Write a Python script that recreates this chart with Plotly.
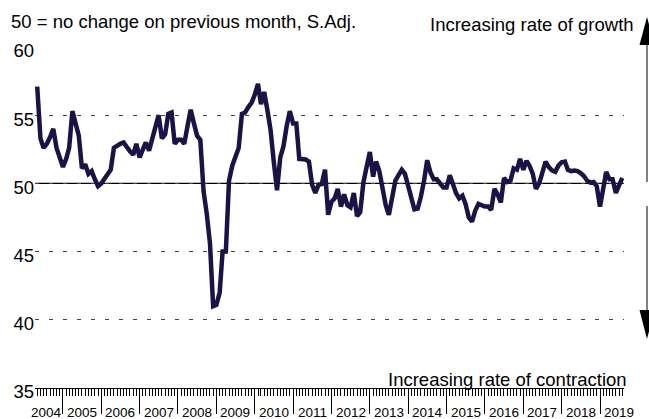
import pandas as pd
import plotly.graph_objects as go

# ---- data (monthly index, 50 = no change) May 2004 .. Aug 2019 ----
start_month = "2004-05-01"
pmi = [
    # 2004 (May-Dec)
    57.1, 53.3, 52.6, 52.9, 53.4, 54.0, 52.6, 51.9,
    # 2005
    51.2, 51.8, 52.6, 55.3, 54.4, 53.5, 51.1, 51.4, 50.7, 50.9, 50.3, 49.8,
    # 2006
    50.0, 50.3, 50.6, 51.0, 52.6, 52.8, 52.9, 53.0, 52.6, 52.35, 52.1, 52.9,
    # 2007
    51.9, 52.5, 53.0, 52.4, 53.3, 54.3, 55.0, 53.3, 53.6, 55.1, 55.2, 52.9,
    # 2008
    53.2, 53.2, 52.9, 54.2, 55.4, 54.4, 53.5, 53.2, 49.4, 47.8, 45.6, 41.0,
    # 2009
    41.1, 42.0, 45.0, 45.0, 50.2, 51.3, 52.0, 52.6, 55.1, 55.2, 55.6, 55.9,
    # 2010
    56.5, 57.3, 55.8, 56.7, 55.4, 53.9, 51.6, 49.5, 51.9, 52.7, 54.2, 55.3,
    # 2011
    54.4, 54.4, 51.8, 51.8, 51.75, 51.6, 49.9, 49.3, 49.9, 49.95, 51.0, 47.7,
    # 2012
    48.65, 48.9, 49.6, 48.3, 49.2, 48.4, 48.25, 49.3, 47.6, 47.9, 50.1, 51.2,
    # 2013
    52.3, 50.5, 51.6, 50.9, 49.7, 48.4, 47.7, 49.2, 50.2, 50.6, 51.0, 50.7,
    # 2014
    49.9, 49.0, 48.1, 48.15, 49.0, 50.2, 51.7, 50.8, 50.3, 50.3, 50.0, 49.7,
    # 2015
    49.7, 50.6, 50.0, 49.3, 48.9, 49.1, 48.5, 47.5, 47.2, 48.0, 48.5, 48.4,
    # 2016
    48.3, 48.3, 48.05, 49.6, 49.2, 48.6, 50.4, 50.1, 50.2, 51.1, 51.0, 51.8,
    # 2017
    51.0, 51.65, 51.3, 50.7, 49.6, 50.0, 50.9, 51.6, 51.2, 50.95, 50.85, 51.3,
    # 2018
    51.55, 51.6, 51.0, 50.9, 50.95, 50.9, 50.75, 50.55, 50.2, 50.05, 50.1, 49.8,
    # 2019 (Jan-Aug)
    48.3, 49.6, 50.85, 50.3, 50.3, 49.3, 49.9, 50.4,
]
months = pd.date_range(start_month, periods=len(pmi), freq="MS")

year_labels = [str(y) for y in range(2004, 2020)]
year_label_pos = ["2004-07-28"] + [f"{y}-07-01" for y in range(2005, 2020)]
y_ticks = [35, 40, 45, 50, 55, 60]
note_text = "50 = no change on previous month, S.Adj."
top_text = "Increasing rate of growth"
bottom_text = "Increasing rate of contraction"

# ---- layout geometry (page pixels) ----
W, H = 649, 419
# plot area in page pixels: x 35..624, y 47..388
PL, PR, PT, PB = 35, 624, 47, 388
L, T = PL, PT
R, B = W - PR, H - PB
PW, PH = PR - PL, PB - PT
FONT = "Liberation Sans, Arial, sans-serif"
LINE_COLOR = "#1b1347"


def px(xpage):
    return (xpage - PL) / PW


def py(ypage):
    return (PB - ypage) / PH


fig = go.Figure()
fig.add_trace(go.Scatter(
    x=months, y=pmi, mode="lines",
    line=dict(color=LINE_COLOR, width=4.5),
    hoverinfo="skip", showlegend=False,
))

# solid reference line at 50
fig.add_shape(type="line", xref="paper", x0=0, x1=1, yref="y", y0=50, y1=50,
              line=dict(color="black", width=1.2), layer="between")

# arrows on the right
AX = px(647)
fig.add_shape(type="line", xref="paper", yref="paper", x0=AX, x1=AX,
              y0=py(44), y1=py(182), line=dict(color="black", width=1))
fig.add_shape(type="path", xref="paper", yref="paper",
              path=f"M {px(639.5)},{py(45)} L {px(654.5)},{py(45)} L {AX},{py(17)} Z",
              fillcolor="black", line=dict(color="black", width=0))
fig.add_shape(type="line", xref="paper", yref="paper", x0=AX, x1=AX,
              y0=py(206), y1=py(311), line=dict(color="black", width=1))
fig.add_shape(type="path", xref="paper", yref="paper",
              path=f"M {px(639.5)},{py(310)} L {px(654.5)},{py(310)} L {AX},{py(339)} Z",
              fillcolor="black", line=dict(color="black", width=0))

ann = []
ann.append(dict(text=note_text, xref="paper", yref="paper", x=px(8.5), y=py(21.5),
                xanchor="left", yanchor="middle", showarrow=False,
                font=dict(size=18.5, color="black", family=FONT)))
ann.append(dict(text=top_text, xref="paper", yref="paper", x=px(636), y=py(24),
                xanchor="right", yanchor="middle", showarrow=False,
                font=dict(size=18.5, color="black", family=FONT)))
ann.append(dict(text=bottom_text, xref="paper", yref="paper", x=px(629), y=py(379.5),
                xanchor="right", yanchor="middle", showarrow=False,
                font=dict(size=18.5, color="black", family=FONT)))
for lab, pos in zip(year_labels, year_label_pos):
    ann.append(dict(text=lab, xref="x", yref="paper", x=pos, y=py(412),
                    xanchor="center", yanchor="middle", showarrow=False,
                    font=dict(size=13.5, color="black", family=FONT)))

fig.update_layout(
    width=W, height=H,
    margin=dict(l=L, r=R, t=T, b=B, autoexpand=False),
    paper_bgcolor="white", plot_bgcolor="white",
    font=dict(family=FONT, color="black"),
    annotations=ann,
    showlegend=False,
)
fig.update_xaxes(
    type="date",
    range=["2004-04-10", "2019-08-17 12:00"],
    showgrid=False, zeroline=False,
    showline=True, linecolor="black", linewidth=1,
    tickmode="linear", tick0="2005-01-01", dtick="M12",
    ticks="outside", ticklen=25, tickwidth=1, tickcolor="black",
    showticklabels=False,
    minor=dict(dtick="M1", ticks="outside", ticklen=7, tickwidth=1,
               tickcolor="black", showgrid=False),
)
fig.update_yaxes(
    range=[35, 60],
    tickmode="array", tickvals=y_ticks, ticktext=[str(v) for v in y_ticks],
    showgrid=True, gridcolor="#444444", gridwidth=1, griddash="4px,10px",
    zeroline=False, showline=False, ticks="",
    tickfont=dict(size=18.5, family=FONT, color="black"),
    ticklabelshift=4, ticklabelstandoff=0,
)

# page body has a default 8px margin; remove it so the 649x419 figure fills the window
fig.write_html(
    "out.html",
    config={"displayModeBar": False},
    post_script="document.body.style.margin='0';document.body.style.overflow='hidden';",
)
